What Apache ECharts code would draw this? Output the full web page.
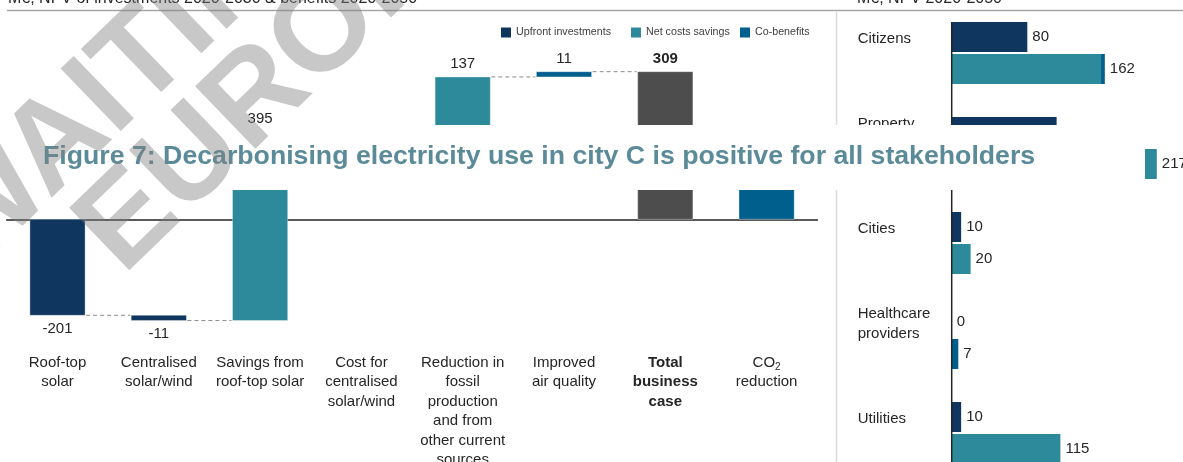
<!DOCTYPE html>
<html>
<head>
<meta charset="utf-8">
<script src="https://cdn.jsdelivr.net/npm/echarts@6/dist/echarts.min.js"></script>
<style>
  html, body { margin: 0; padding: 0; background: #fff; overflow: hidden; width: 1183px; height: 462px; }
  #chart { width: 1200px; height: 500px; }
</style>
</head>
<body>
<div id="chart"></div>
<script>
// Business case for decarbonising electricity use, M€ NPV
const stepLabels = [
  'Roof-top\nsolar',
  'Centralised\nsolar/wind',
  'Savings from\nroof-top solar',
  'Cost for\ncentralised\nsolar/wind',
  'Reduction in\nfossil\nproduction\nand from\nother current\nsources',
  'Improved\nair quality',
  'Total\nbusiness\ncase',
  'CO2\nreduction'
];
const stepValues = [-201, -11, 395, -22, 137, 11, 309, 84];
const stepKinds = ['upfront', 'upfront', 'savings', 'savings', 'savings', 'cobenefit', 'total', 'cobenefit'];
// 'delta' continues the running sum, 'total' shows the sum, 'standalone' starts from zero on its own
const stepModes = ['delta', 'delta', 'delta', 'delta', 'delta', 'delta', 'total', 'standalone'];

// Split of the business case by stakeholder, M€ NPV
const stakeholders = ['Citizens', 'Property\nowners', 'Cities', 'Healthcare\nproviders', 'Utilities'];
const stakeholderUpfront = [80, 111, 10, 0, 10];
const stakeholderSavings = [158, 217, 20, 0, 115];
const stakeholderCoBenefits = [4, 0, 0, 7, 0];

const legendNames = ['Upfront investments', 'Net costs savings', 'Co-benefits'];

const COLORS = {
  upfront: '#0e365f',
  savings: '#2c8a9b',
  cobenefit: '#015f8e',
  total: '#4d4d4d'
};
const FONT = '"Liberation Sans", Arial, sans-serif';
const TEXT = '#262626';

// running sums for the waterfall
let running = 0;
const stepRanges = stepValues.map((v, i) => {
  if (stepModes[i] !== 'delta') return [i, 0, v];
  const start = running;
  running += v;
  return [i, start, running];
});
const connectorLevels = [];
for (let i = 0; i < stepValues.length - 1; i++) {
  if (stepModes[i] === 'delta' && stepModes[i + 1] !== 'standalone') {
    connectorLevels.push([i, stepRanges[i][2]]);
  }
}
const stakeholderTotals = stakeholderSavings.map((v, i) => v + stakeholderCoBenefits[i]);

const BAR_RATIO = 0.545;

function stepLabelFormatter(value, index) {
  const tag = stepKinds[index] === 'total' ? 'b' : 't';
  return value.split('\n').map(line => {
    if (line === 'CO2') return '{t|CO}{s|2}';
    return '{' + tag + '|' + line + '}';
  }).join('\n');
}

// stakeholder names sit level with the first bar of each pair
function stakeholderLabelFormatter(value) {
  return value.split('\n').map(line => '{n|' + line + '}').join('\n') + '\n{sp| }';
}

// rotated watermark text placed by its baseline start point
const wmAngle = 44 * Math.PI / 180;
function watermark(id, text, bx, by) {
  const F = 126, m = 0.33 * F;
  const upX = -Math.sin(wmAngle), upY = -Math.cos(wmAngle);
  return {
    type: 'text', id, silent: true, z: 120,
    x: bx + upX * m, y: by + upY * m, rotation: wmAngle,
    style: { text, font: 'bold ' + F + 'px ' + FONT, fill: 'rgba(128,128,128,0.43)', align: 'left', verticalAlign: 'middle' }
  };
}

const chart = echarts.init(document.getElementById('chart'), null, { renderer: 'canvas' });

const option = {
  animation: false,
  backgroundColor: '#fff',
  textStyle: { fontFamily: FONT },
  legend: legendNames.map((name, i) => ({
    data: [name],
    left: [496, 626, 735][i],
    top: 22,
    icon: 'rect',
    itemWidth: 10,
    itemHeight: 10,
    selectedMode: false,
    textStyle: { fontSize: 10.7, color: '#404040', fontFamily: FONT }
  })),
  grid: [
    { left: 6.85, top: 52.1, width: 810.4, height: 286.6 },
    { left: 951.7, top: 5.5, width: 236.3, height: 475 }
  ],
  xAxis: [
    {
      gridIndex: 0, type: 'category', data: stepLabels,
      axisLine: { show: false, onZero: false }, axisTick: { show: false },
      axisLabel: {
        interval: 0, margin: 14, formatter: stepLabelFormatter,
        rich: {
          t: { fontSize: 15, lineHeight: 19.5, color: TEXT, fontFamily: FONT },
          b: { fontSize: 15, lineHeight: 19.5, color: TEXT, fontFamily: FONT, fontWeight: 'bold' },
          s: { fontSize: 10, lineHeight: 12, color: TEXT, fontFamily: FONT, verticalAlign: 'bottom' }
        }
      }
    },
    {
      gridIndex: 0, type: 'category', data: stepLabels, position: 'bottom',
      axisLine: { show: true, onZero: true, lineStyle: { color: '#595959', width: 2 } },
      axisTick: { show: false }, axisLabel: { show: false }
    },
    { gridIndex: 1, type: 'value', min: 0, max: 250, show: false }
  ],
  yAxis: [
    { gridIndex: 0, type: 'value', min: -250, max: 350, show: false },
    {
      gridIndex: 1, type: 'category', inverse: true, data: stakeholders,
      axisLine: { show: false }, axisTick: { show: false },
      axisLabel: {
        align: 'left', margin: 94, formatter: stakeholderLabelFormatter,
        rich: {
          n: { fontSize: 15, lineHeight: 20, color: TEXT, fontFamily: FONT },
          sp: { fontSize: 10, lineHeight: 28 }
        }
      }
    }
  ],
  series: [
    {
      type: 'custom', name: 'steps', xAxisIndex: 0, yAxisIndex: 0,
      encode: { x: 0, y: [1, 2] },
      data: stepRanges,
      renderItem(params, api) {
        const idx = params.dataIndex;
        const i = api.value(0), a = api.value(1), b = api.value(2);
        const w = api.size([1, 0])[0] * BAR_RATIO;
        const pA = api.coord([i, a]), pB = api.coord([i, b]);
        const top = Math.min(pA[1], pB[1]), bottom = Math.max(pA[1], pB[1]);
        const up = b >= a;
        const kind = stepKinds[idx];
        return {
          type: 'group',
          children: [
            {
              type: 'rect',
              shape: { x: pA[0] - w / 2, y: top, width: w, height: Math.max(bottom - top, 1) },
              style: { fill: COLORS[kind], stroke: 'rgba(255,255,255,0.35)', lineWidth: 1 }
            },
            {
              type: 'text',
              x: pA[0], y: up ? top - 13 : bottom + 13.5,
              style: {
                text: String(stepValues[idx]), fill: TEXT,
                font: (kind === 'total' ? 'bold ' : '') + '15px ' + FONT,
                align: 'center', verticalAlign: 'middle'
              }
            }
          ]
        };
      }
    },
    {
      type: 'custom', name: 'connectors', xAxisIndex: 0, yAxisIndex: 0,
      encode: { x: 0, y: 1 },
      data: connectorLevels,
      renderItem(params, api) {
        const i = api.value(0), level = api.value(1);
        const w = api.size([1, 0])[0] * BAR_RATIO;
        const p0 = api.coord([i, level]), p1 = api.coord([i + 1, level]);
        return {
          type: 'line',
          shape: { x1: p0[0] + w / 2 + 1, y1: p0[1], x2: p1[0] - w / 2 - 1, y2: p1[1] },
          style: { stroke: '#8c8c8c', lineWidth: 1, lineDash: [4, 3] }
        };
      }
    },
    {
      name: legendNames[0], type: 'bar', xAxisIndex: 2, yAxisIndex: 1,
      data: stakeholderUpfront, barWidth: 30, barGap: '6.7%',
      itemStyle: { color: COLORS.upfront },
      label: { show: true, position: 'right', distance: 5, fontSize: 15, color: TEXT, fontFamily: FONT }
    },
    {
      name: legendNames[1], type: 'bar', xAxisIndex: 2, yAxisIndex: 1, stack: 'benefit',
      data: stakeholderSavings, barWidth: 30, barGap: '6.7%',
      itemStyle: { color: COLORS.savings }
    },
    {
      name: legendNames[2], type: 'bar', xAxisIndex: 2, yAxisIndex: 1, stack: 'benefit',
      data: stakeholderCoBenefits, barWidth: 30, barGap: '6.7%',
      itemStyle: { color: COLORS.cobenefit },
      label: {
        show: true, position: 'right', distance: 5, fontSize: 15, color: TEXT, fontFamily: FONT,
        formatter: p => String(stakeholderTotals[p.dataIndex])
      }
    }
  ],
  graphic: [
    { type: 'line', id: 'rule', silent: true, shape: { x1: 7, y1: 10.5, x2: 1200, y2: 10.5 },
      style: { stroke: '#a6a6a6', lineWidth: 1.5 } },
    { type: 'text', id: 'head-left', silent: true, x: 8, y: -1.6,
      style: { text: 'M€, NPV of investments 2020-2030 & benefits 2020-2050', font: '16px ' + FONT, fill: TEXT, verticalAlign: 'middle' } },
    { type: 'text', id: 'head-right', silent: true, x: 857, y: -1.6,
      style: { text: 'M€, NPV 2020-2050', font: '16px ' + FONT, fill: TEXT, verticalAlign: 'middle' } },
    { type: 'line', id: 'divider', silent: true, shape: { x1: 836.5, y1: 12, x2: 836.5, y2: 500 },
      style: { stroke: '#dcdcdc', lineWidth: 1.5 } },
    { type: 'rect', id: 'band', silent: true, z: 100, shape: { x: 0, y: 125, width: 1145, height: 65 },
      style: { fill: '#ffffff' } },
    { type: 'text', id: 'title', silent: true, z: 101, x: 43, y: 156.5,
      style: { text: 'Figure 7: Decarbonising electricity use in city C is positive for all stakeholders',
        font: 'bold 26.7px ' + FONT, fill: '#5b8b99', verticalAlign: 'middle' } },
    watermark('wm1', 'AWAITING', -87, 341),
    watermark('wm2', 'EUROPEAN', 128, 281)
  ]
};

chart.setOption(option);

// vertical axis line of the stakeholder chart, starting at the top of the first bar pair
const c0 = chart.convertToPixel({ xAxisIndex: 2, yAxisIndex: 1 }, [0, 0]);
const c1 = chart.convertToPixel({ xAxisIndex: 2, yAxisIndex: 1 }, [0, 1]);
const pairHalf = 30 + 30 * 0.067 / 2;
chart.setOption({
  graphic: [
    { type: 'line', id: 'stake-axis', silent: true, z: 5,
      shape: { x1: c0[0], y1: c0[1] - pairHalf, x2: c0[0], y2: c0[1] + (c1[1] - c0[1]) * stakeholders.length },
      style: { stroke: '#262626', lineWidth: 1.5 } }
  ]
});
</script>
</body>
</html>
